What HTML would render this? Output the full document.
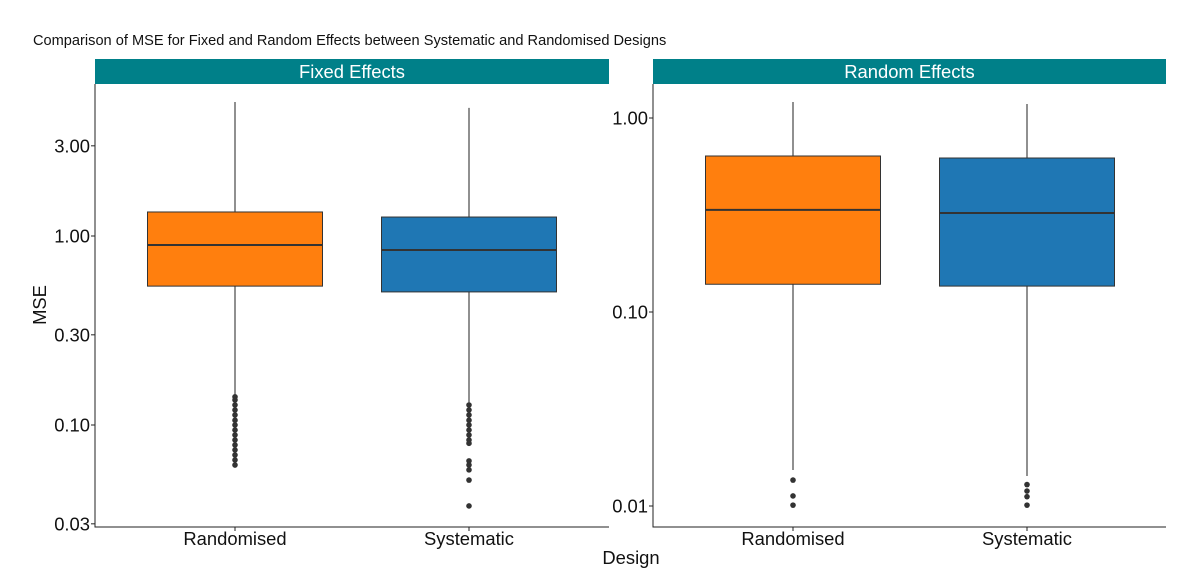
<!DOCTYPE html>
<html><head><meta charset="utf-8"><style>
body{margin:0;background:#fff;font-family:"Liberation Sans",sans-serif}
</style></head><body>
<svg id="c" width="1200" height="581" xmlns="http://www.w3.org/2000/svg"></svg>
<script>
const categories=["Randomised","Systematic"];
const colors=["#ff7f0e","#1f77b4"];
const fixedStats=[[0.144,0.543,0.896,1.34,5.12],[0.1306,0.506,0.843,1.26,4.76]];
const fixedOutliers=[[0.141,0.1356,0.1276,0.120,0.113,0.106,0.100,0.094,0.0885,0.0833,0.0784,0.0738,0.0694,0.0653,0.0614],
[0.1276,0.120,0.113,0.106,0.100,0.094,0.0885,0.0833,0.080,0.0646,0.0614,0.0579,0.0511,0.0373]];
const randomStats=[[0.01534,0.139,0.336,0.637,1.21],[0.01428,0.136,0.324,0.622,1.18]];
const randomOutliers=[[0.0136,0.01127,0.0101],[0.01289,0.01194,0.01117,0.0101]];
const fixedTicks=[3,1,0.3,0.1,0.03];
const fixedTickLabels=["3.00","1.00","0.30","0.10","0.03"];
const randomTicks=[1,0.1,0.01];
const randomTickLabels=["1.00","0.10","0.01"];
const NS="http://www.w3.org/2000/svg";
const svg=document.getElementById('c');
function mk(t,a,txt){const e=document.createElementNS(NS,t);for(const k in a)e.setAttribute(k,a[k]);if(txt!==undefined)e.textContent=txt;svg.appendChild(e);return e;}
let e=mk('text',{x:33,y:45,'font-size':14.6,fill:'#111'},'Comparison of MSE for Fixed and Random Effects between Systematic and Randomised Designs');

e=mk('text',{x:631,y:564,'font-size':18.4,'text-anchor':'middle',fill:'#111'},'Design');

e=mk('text',{x:0,y:0,'font-size':18.4,'text-anchor':'middle',fill:'#111',transform:'translate(46,305) rotate(-90)'},'MSE');

function panel(name,title,x0,x1,y0v,y0p,ppd,stats,outs,ticks,labels,centers){
  const y=v=>y0p-(Math.log10(v)-Math.log10(y0v))*ppd;
  let s=mk('rect',{x:x0,y:59,width:x1-x0,height:25,fill:'#008089'});
  
  s=mk('text',{x:(x0+x1)/2,y:78,'font-size':18.4,fill:'#fff','text-anchor':'middle'},title);
  
  s=mk('path',{d:`M${x0} 84V527H${x1}`,stroke:'#222',fill:'none','stroke-width':1});
  
  ticks.forEach((t,i)=>{
    const ty=y(t);
    mk('line',{x1:x0-4,x2:x0,y1:ty,y2:ty,stroke:'#222'});
    const l=mk('text',{x:x0-5,y:ty+6.5,'font-size':18.4,'text-anchor':'end',fill:'#111'},labels[i]);
    
  });
  categories.forEach((c,i)=>{
    const cx=centers[i],w=175,st=stats[i];
    mk('line',{x1:cx,x2:cx,y1:y(st[4]),y2:y(st[3]),stroke:'#222'});
    mk('line',{x1:cx,x2:cx,y1:y(st[1]),y2:y(st[0]),stroke:'#222'});
    const b=mk('rect',{x:cx-w/2,y:y(st[3]),width:w,height:y(st[1])-y(st[3]),fill:colors[i],stroke:'#333','stroke-width':1});
    
    mk('line',{x1:cx-w/2,x2:cx+w/2,y1:y(st[2]),y2:y(st[2]),stroke:'#333','stroke-width':2});
    outs[i].forEach(v=>{const p=mk('circle',{cx:cx,cy:y(v),r:2.8,fill:'#333'});
      });
    mk('line',{x1:cx,x2:cx,y1:527,y2:531,stroke:'#222'});
    const l=mk('text',{x:cx,y:545,'font-size':18.4,'text-anchor':'middle',fill:'#111'},c);
    
  });
}
panel('fixed-effects','Fixed Effects',95,609,1,236,189,fixedStats,fixedOutliers,fixedTicks,fixedTickLabels,[235,469]);
panel('random-effects','Random Effects',653,1166,1,118,194,randomStats,randomOutliers,randomTicks,randomTickLabels,[793,1027]);
</script>
</body></html>
